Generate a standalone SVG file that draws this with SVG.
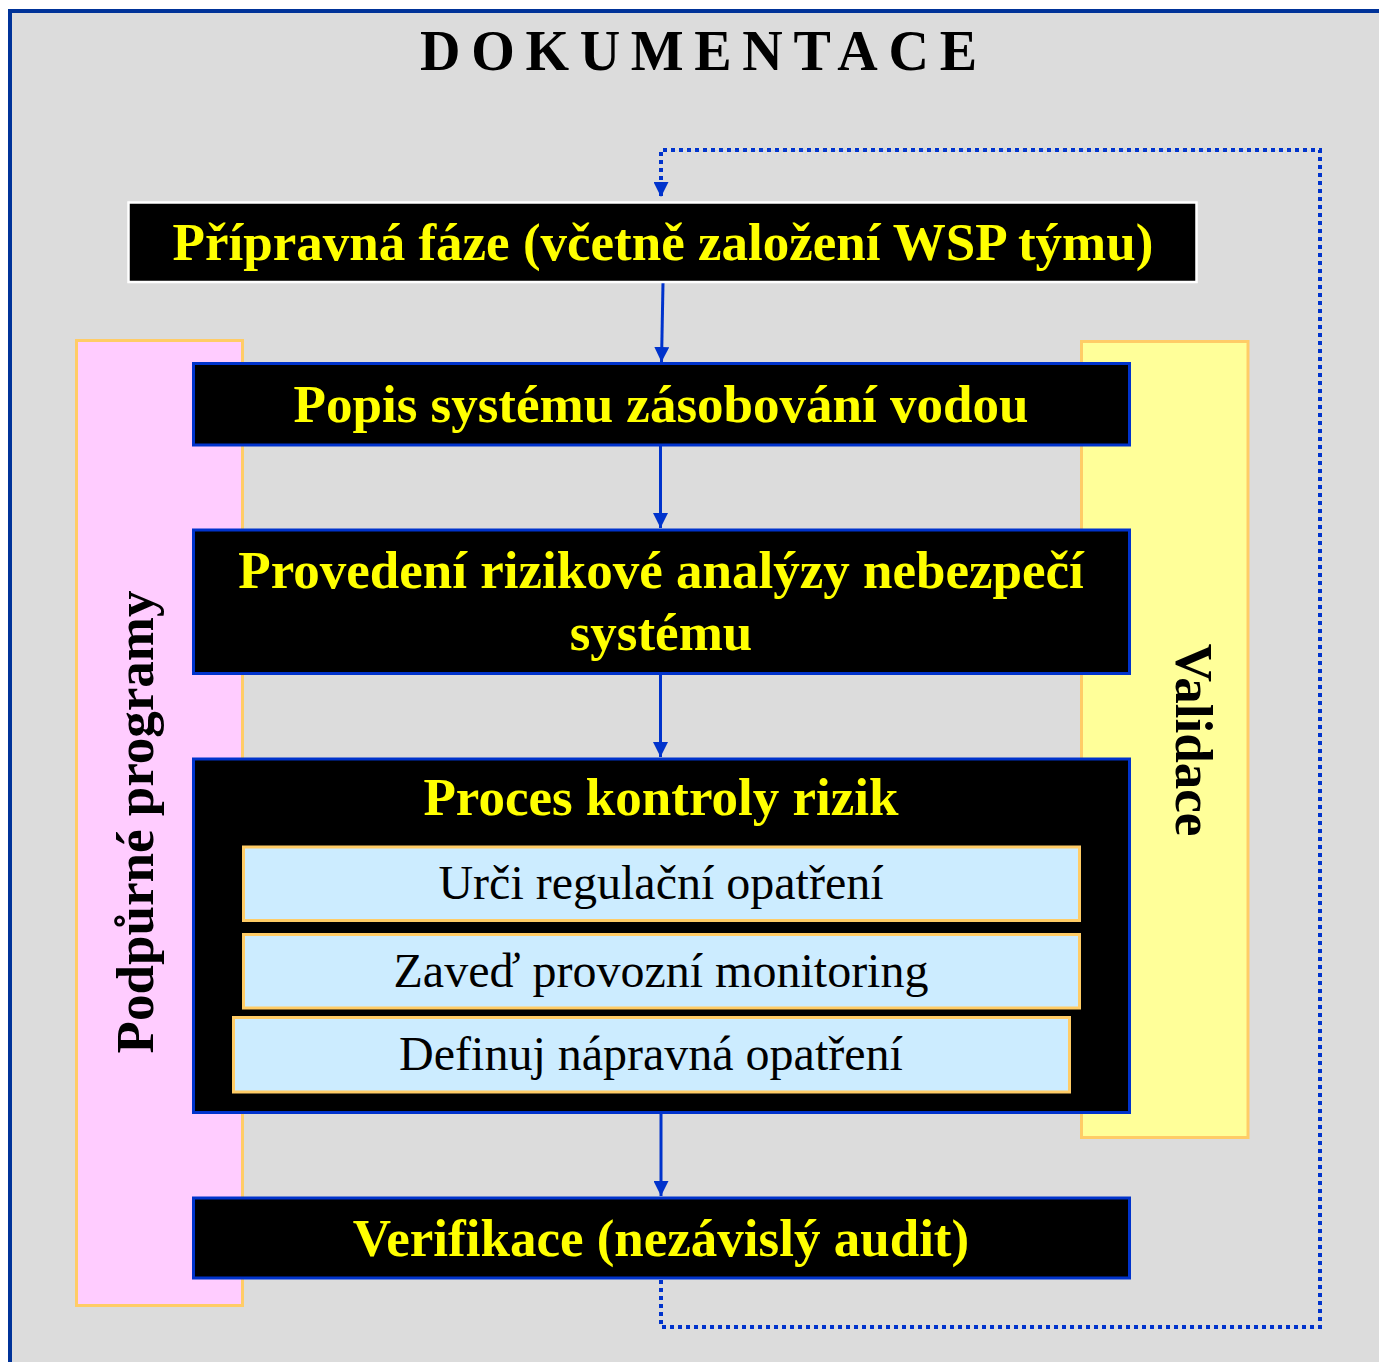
<svg xmlns="http://www.w3.org/2000/svg" width="1379" height="1362" viewBox="0 0 1379 1362">
<style>
.bt{font-family:"Liberation Serif","Times New Roman",serif;font-weight:bold;font-size:53px;fill:#FFFF00;text-anchor:middle}
.st{font-family:"Liberation Serif","Times New Roman",serif;font-size:48px;fill:#000;text-anchor:middle}
.vt{font-family:"Liberation Serif","Times New Roman",serif;font-weight:bold;font-size:53px;fill:#000;text-anchor:middle}
.box{fill:#000;stroke:#0033CC;stroke-width:3}
.sub{fill:#CCECFF;stroke:#FFCC66;stroke-width:3}
.conn{stroke:#0033CC;stroke-width:3;fill:none}
.dot{stroke:#0033CC;stroke-width:4;fill:none;stroke-dasharray:4 4}
</style>
<defs>
<marker id="ah" markerUnits="userSpaceOnUse" markerWidth="15" markerHeight="15" refX="15" refY="7.5" orient="auto">
<path d="M0,0 L15,7.5 L0,15 z" fill="#0033CC"/>
</marker>
</defs>
<rect x="0" y="0" width="1379" height="1362" fill="#FFFFFF"/>
<rect x="10" y="11" width="1420" height="1420" fill="#DCDCDC" stroke="#003399" stroke-width="4"/>
<g id="title">
<text x="420" y="70" textLength="557" lengthAdjust="spacing" style="font-family:'Liberation Serif','Times New Roman',serif;font-weight:bold;font-size:56px;fill:#000">DOKUMENTACE</text>
</g>
<g id="podpurne">
<rect x="76.5" y="340.5" width="166" height="965" fill="#FFCCFF" stroke="#FFCC66" stroke-width="3"/>
<text class="vt" transform="translate(153,822) rotate(-90)">Podpůrné programy</text>
</g>
<g id="validace">
<rect x="1081.5" y="341.5" width="166.5" height="796" fill="#FFFF99" stroke="#FFCC66" stroke-width="3"/>
<text class="vt" transform="translate(1176,740) rotate(90)">Validace</text>
</g>
<g id="connectors">
<path class="dot" d="M661,1280 V1327 H1320 V150 H661 V197" marker-end="url(#ah)"/>
<line class="conn" x1="663" y1="283" x2="661.5" y2="362" marker-end="url(#ah)"/>
<line class="conn" x1="660.5" y1="446" x2="660.5" y2="528" marker-end="url(#ah)"/>
<line class="conn" x1="660.5" y1="674" x2="660.5" y2="757" marker-end="url(#ah)"/>
<line class="conn" x1="661" y1="1113" x2="661" y2="1196" marker-end="url(#ah)"/>
</g>
<g id="pripravna">
<rect x="128.5" y="202.5" width="1068" height="79.5" fill="#000" stroke="#FFFFFF" stroke-width="2.5"/>
<text class="bt" x="663" y="260">Přípravná fáze (včetně založení WSP týmu)</text>
</g>
<g id="popis">
<rect class="box" x="193.5" y="363.5" width="936" height="81.5"/>
<text class="bt" x="661" y="422">Popis systému zásobování vodou</text>
</g>
<g id="provedeni">
<rect class="box" x="193.5" y="530" width="936" height="143.5"/>
<text class="bt" x="661" y="588">Provedení rizikové analýzy nebezpečí</text>
<text class="bt" x="661" y="650">systému</text>
</g>
<g id="proces">
<rect class="box" x="193.5" y="759" width="936" height="353.5"/>
<text class="bt" x="661" y="815">Proces kontroly rizik</text>
</g>
<g id="urci">
<rect class="sub" x="243.5" y="847" width="836" height="73.5"/>
<text class="st" x="661" y="899">Urči regulační opatření</text>
</g>
<g id="zaved">
<rect class="sub" x="243.5" y="934.5" width="836" height="73.5"/>
<text class="st" x="661" y="987">Zaveď provozní monitoring</text>
</g>
<g id="definuj">
<rect class="sub" x="233.5" y="1017.5" width="836" height="74.5"/>
<text class="st" x="651" y="1070">Definuj nápravná opatření</text>
</g>
<g id="verifikace">
<rect class="box" x="193.5" y="1198" width="936" height="80"/>
<text class="bt" x="661" y="1256">Verifikace (nezávislý audit)</text>
</g>
</svg>
